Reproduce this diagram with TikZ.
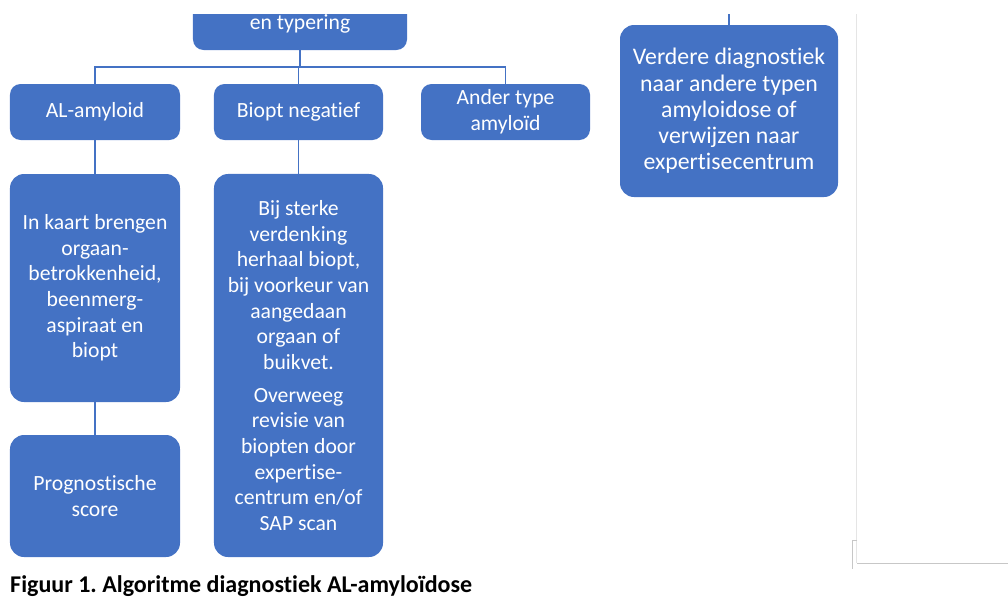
\documentclass[tikz,border=0pt]{standalone}
\usepackage{fontspec}
\setmainfont[Ligatures=NoCommon]{Carlito}
\usepackage{tikz}
\usetikzlibrary{positioning,calc}
\frenchspacing

\definecolor{officeblue}{HTML}{4472C4}

\begin{document}
\begin{tikzpicture}[
  x=0.03cm, y=-0.03cm,
  every node/.style={font=\fontsize{18.5}{21.9}\selectfont},
  box/.style={fill=officeblue, text=white, rectangle, rounded corners=9pt,
  inner sep=2pt, align=center, minimum width=5.1cm, minimum height=1.68cm},
  link/.style={draw=officeblue, line width=1.3pt},
  frame/.style={draw=black!22, line width=0.6pt}
]
\useasboundingbox (0,0) rectangle (1008,605);
\begin{scope}
\clip (0,14) rectangle (1008,605);
% top level (cut off by the page)
\node[box, minimum width=6.42cm, minimum height=1.56cm] (typering) at (300,24) {en typering};
\node[box, minimum width=6.54cm, minimum height=5.16cm, rounded corners=12pt,
  font=\fontsize{20.3}{22.4}\selectfont] (verdere) at (729,111)
  {Verdere diagnostiek\\ naar andere typen\\ amyloidose of\\ verwijzen naar\\ expertisecentrum};
\coordinate (verdereup) at (729,0);
% second row
\node[box] (alamy) at (95,112) {AL-amyloid};
\node[box, minimum width=5.07cm] (negatief) at (298.5,112) {Biopt negatief};
\node[box, minimum width=5.07cm] (ander) at (505.5,112) {Ander type\\ amyloïd};
% third row
\node[box, minimum height=6.84cm, rounded corners=12pt] (kaart) at (95,288)
  {In kaart brengen\\ orgaan-\\ betrokkenheid,\\ beenmerg-\\ aspiraat en\\ biopt};
\node[box, minimum height=3.66cm, rounded corners=12pt] (prognose) at (95,496) {Prognostische\\ score};
\node[box, minimum width=5.07cm, minimum height=11.49cm, rounded corners=12pt] (sterk) at (298.5,365.5)
  {Bij sterke\\ verdenking\\ herhaal biopt,\\ bij voorkeur van\\ aangedaan\\ orgaan of\\ buikvet.\\[6pt]
   Overweeg\\ revisie van\\ biopten door\\ expertise-\\ centrum en/of\\ SAP scan};
% connectors
\coordinate (split) at (300,67);
\draw[link] (typering.south) -- (split);
\foreach \n in {alamy, negatief, ander}
  \draw[link] (split) -| (\n.north);
\foreach \a/\b in {alamy/kaart, kaart/prognose, negatief/sterk, verdereup/verdere}
  \draw[link] (\a) -- (\b);
\end{scope}
% page edge
\draw[frame, draw=black!10] (856,14) -- (856,563);
\draw[frame] (857,563) -- (1008,563);
\draw[frame] (857,540) -- (852,540) -- (852,569);
% caption
\node[anchor=west, inner sep=0pt, font=\fontsize{20.5}{24}\selectfont\bfseries] (caption) at (10,586)
  {Figuur 1. Algoritme diagnostiek AL-amyloïdose};
\end{tikzpicture}
\end{document}
